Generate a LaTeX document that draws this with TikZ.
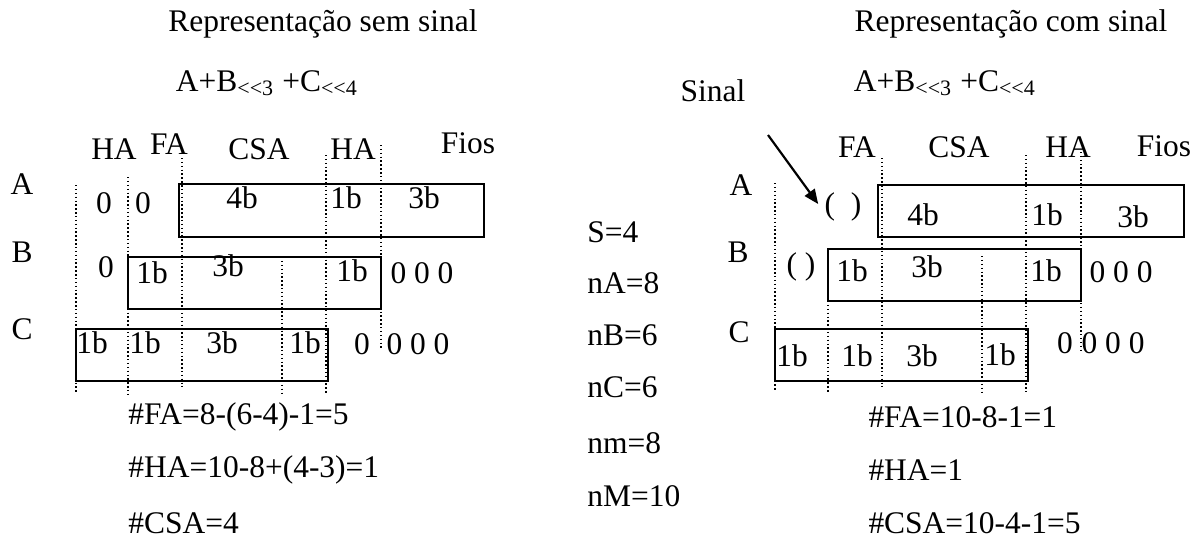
\documentclass[tikz,border=0pt]{standalone}
\usepackage{fontspec}
\setmainfont{Liberation Serif}
\usepackage{tikz}
\usetikzlibrary{arrows.meta}

\tikzset{
  txt/.style={inner sep=0pt, font=\fontsize{13}{15}\selectfont},
  frame/.style={draw, line width=0.7pt},
  guide/.style={densely dotted, line width=0.6pt},
  sinalarrow/.style={-{Triangle[length=6pt, width=5pt]}, line width=0.9pt},
}

\begin{document}
\begin{tikzpicture}[x=0.4132pt, y=-0.4132pt]
  \useasboundingbox (0,0) rectangle (1203,538);

  % titles
  \node[txt] (titleL) at (323,24) {Representação sem sinal};
  \node[txt] (titleR) at (1011,24) {Representação com sinal};
  \node[txt] (exprL) at (267,83) {A+B\textsubscript{<{}<3} +C\textsubscript{<{}<4}};
  \node[txt] (exprR) at (945,83) {A+B\textsubscript{<{}<3} +C\textsubscript{<{}<4}};

  % column heads
  \foreach \x/\y/\t [count=\i] in {114/149/HA, 169/144/FA, 259/149/CSA, 353/149/HA, 468/143/Fios}
    \node[txt] (headL\i) at (\x,\y) {\t};
  \foreach \x/\y/\t [count=\i] in {857/147/FA, 959/147/CSA, 1068/147/HA, 1164/146/Fios}
    \node[txt] (headR\i) at (\x,\y) {\t};

  % row names
  \foreach \x/\y/\t [count=\i] in {22/184/A, 22/252/B, 22/329/C, 741/185/A, 738/252/B, 739/332/C}
    \node[txt] (row\i) at (\x,\y) {\t};

  % guides
  \foreach \x/\ya/\yb in {76/185/392, 128/177/395, 182/158/387, 282/257/395, 326/155/393, 381/145/350,
                          775/183/390, 828/301/392, 882/158/387, 982/256/395, 1026/155/392, 1081/152/353}
    \draw[guide] (\x,\ya) -- (\x,\yb);

  % operand boxes
  \draw[frame] (179,184) rectangle (484,237);
  \draw[frame] (128,257) rectangle (381,309);
  \draw[frame] (76,329) rectangle (328,381);
  \draw[frame] (878,185) rectangle (1184,237);
  \draw[frame] (828,249) rectangle (1081,301);
  \draw[frame] (775,329) rectangle (1028,381);

  % bits, sem sinal
  \foreach \x/\y/\t [count=\i] in {104/203/0, 143/203/0, 242/198/4b, 346/198/1b, 424/198/3b,
                                  106/267/0, 152/273/1b, 228/266/3b, 352/271/1b, 422/273/0 0 0,
                                  92/343/1b, 145/343/1b, 222/343/3b, 305/343/1b, 362/344/0, 418/344/0 0 0}
    \node[txt] (bitL\i) at (\x,\y) {\t};

  % bits, com sinal
  \node[txt] (parA) at (843,207) {(\hspace{0.5em})};
  \foreach \x/\y/\t [count=\i] in {923/215/4b, 1047/215/1b, 1133/217/3b,
                                  801/267/( ), 852/271/1b, 927/267/3b, 1046/271/1b, 1121/272/0 0 0,
                                  792/356/1b, 857/356/1b, 922/356/3b, 1000/355/1b, 1065/343/0, 1113/343/0 0 0}
    \node[txt] (bitR\i) at (\x,\y) {\t};

  % sinal
  \node[txt] (sinal) at (713,91) {Sinal};
  \coordinate (sinalfrom) at (768,135);
  \draw[sinalarrow] (sinalfrom) -- ([shift={(-6,-3)}]parA.west);

  % parameters
  \foreach \y/\t [count=\i] in {232/S=4, 283/nA=8, 335/nB=6, 387/nC=6, 443/nm=8, 496/nM=10}
    \node[txt, anchor=west] (par\i) at (587,\y) {\t};

  % counts
  \foreach \y/\t [count=\i] in {417/\#FA=8-(6-4)-1=5, 470/\#HA=10-8+(4-3)=1, 523/\#CSA=4}
    \node[txt, anchor=west] (countL\i) at (128,\y) {\t};
  \foreach \y/\t [count=\i] in {417/\#FA=10-8-1=1, 470/\#HA=1, 523/\#CSA=10-4-1=5}
    \node[txt, anchor=west] (countR\i) at (868,\y) {\t};
\end{tikzpicture}
\end{document}
